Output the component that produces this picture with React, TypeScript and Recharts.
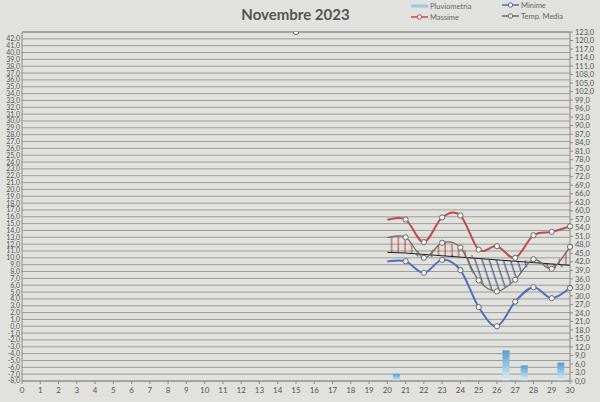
import { ComposedChart, Line, Area, Bar, XAxis, YAxis, CartesianGrid, ReferenceLine } from 'recharts'

// giorni del mese con le temperature (il 20 ripete il 21, è il tratto iniziale senza marcatore)
const giorni = [20, 21, 22, 23, 24, 25, 26, 27, 28, 29, 30]
const massime = [15.6, 15.6, 12.3, 15.9, 16.2, 11.2, 11.7, 10.0, 13.3, 13.8, 14.6]
const minime = [9.5, 9.5, 7.8, 9.7, 8.2, 2.8, 0.0, 3.6, 5.7, 4.1, 5.6]
const tempMedia = [13.0, 13.0, 10.0, 12.2, 11.5, 6.7, 5.1, 6.8, 9.8, 8.4, 11.6]
const mediaNormale = [10.8, 10.7, 10.5, 10.3, 10.1, 9.9, 9.7, 9.5, 9.3, 9.1, 8.9]

// pioggia (asse destro), barre a metà giornata
const giorniPioggia = [20.5, 21.5, 24.5, 26.5, 27.5, 29.5]
const pluviometria = [2.5, 0.3, 0.2, 10.8, 5.5, 6.5]

// punto fuori scala in alto
const giornoFuoriScala = [15]
const valoreFuoriScala = [43]

const xTicks = [0, 1, 2, 3, 4, 5, 6, 7, 8, 9, 10, 11, 12, 13, 14, 15, 16, 17, 18, 19, 20, 21, 22, 23, 24, 25, 26, 27, 28, 29, 30]
const tickSinistra = [
  -8, -7, -6, -5, -4, -3, -2, -1, 0, 1, 2, 3, 4, 5, 6, 7, 8, 9, 10, 11, 12, 13, 14, 15, 16, 17, 18, 19, 20, 21,
  22, 23, 24, 25, 26, 27, 28, 29, 30, 31, 32, 33, 34, 35, 36, 37, 38, 39, 40, 41, 42,
]
const tickDestra = [
  0, 3, 6, 9, 12, 15, 18, 21, 24, 27, 30, 33, 36, 39, 42, 45, 48, 51, 54, 57, 60, 63, 66, 69, 72, 75, 78, 81, 84,
  87, 90, 93, 96, 99, 102, 105, 108, 111, 114, 117, 120, 123,
]

type Riga = {
  x: number
  max?: number
  min?: number
  media?: number
  normale?: number
  sopra?: [number, number]
  sotto?: [number, number]
  pioggia?: number
  fuori?: number
}

const righe: Riga[] = [
  ...giornoFuoriScala.map((x, i) => ({ x, fuori: valoreFuoriScala[i] })),
  ...giorni.map((x, i) => ({
    x,
    max: massime[i],
    min: minime[i],
    media: tempMedia[i],
    normale: mediaNormale[i],
    sopra: [mediaNormale[i], Math.max(tempMedia[i], mediaNormale[i])] as [number, number],
    sotto: [Math.min(tempMedia[i], mediaNormale[i]), mediaNormale[i]] as [number, number],
  })),
  ...giorniPioggia.map((x, i) => ({ x, pioggia: pluviometria[i] })),
].sort((a, b) => a.x - b.x)

const fmt = (v: number) => v.toFixed(1).replace('.', ',')

// curva smussata tipo Excel (Catmull-Rom)
const curvaExcel = (context: any) => {
  let xs: number[] = []
  let ys: number[] = []
  let line = NaN
  return {
    areaStart() {
      line = 0
    },
    areaEnd() {
      line = NaN
    },
    lineStart() {
      xs = []
      ys = []
    },
    point(x: number, y: number) {
      xs.push(+x)
      ys.push(+y)
    },
    lineEnd() {
      const n = xs.length
      if (n > 0) {
        if (line) context.lineTo(xs[0], ys[0])
        else context.moveTo(xs[0], ys[0])
        for (let i = 0; i < n - 1; i++) {
          const x0 = xs[Math.max(i - 1, 0)]
          const y0 = ys[Math.max(i - 1, 0)]
          const x3 = xs[Math.min(i + 2, n - 1)]
          const y3 = ys[Math.min(i + 2, n - 1)]
          context.bezierCurveTo(
            xs[i] + (xs[i + 1] - x0) / 6,
            ys[i] + (ys[i + 1] - y0) / 6,
            xs[i + 1] - (x3 - xs[i]) / 6,
            ys[i + 1] - (y3 - ys[i]) / 6,
            xs[i + 1],
            ys[i + 1]
          )
        }
      }
      if (line || (line !== 0 && n === 1)) context.closePath()
      line = 1 - line
    },
  }
}

const marcatore = (p: any) => {
  if (p.cy == null || p.value == null || p.payload?.x === 20) return <g key={`n${p.index}`} />
  return <circle key={`d${p.index}`} cx={p.cx} cy={p.cy} r={2.6} fill="#f4f4f2" stroke="#6a6a6a" strokeWidth={1} />
}

const testo = '#555'
const sfondo = '#e1e1de'

const LegendaVoce = ({ x, y, colore, cerchio, spesso, label }: any) => (
  <div style={{ position: 'absolute', left: x, top: y, height: 10, display: 'flex', alignItems: 'center' }}>
    <svg width={17} height={10}>
      <line x1={0} y1={5} x2={17} y2={5} stroke={colore} strokeWidth={spesso ? 3 : 1.5} />
      {cerchio && <circle cx={8.5} cy={5} r={2.2} fill="#f4f4f2" stroke={colore} strokeWidth={1} />}
    </svg>
    <span style={{ fontSize: 7.5, color: '#666', marginLeft: 2 }}>{label}</span>
  </div>
)

export default function App() {
  return (
    <div
      style={{
        position: 'absolute',
        left: 0,
        top: 0,
        width: 600,
        height: 402,
        background: sfondo,
        fontFamily: 'Lato, "Open Sans", sans-serif',
        overflow: 'hidden',
      }}
    >
      <div
        style={{
          position: 'absolute',
          left: 0,
          top: 5,
          width: 591,
          textAlign: 'center',
          fontSize: 15,
          fontWeight: 'bold',
          color: testo,
        }}
      >
        Novembre 2023
      </div>
      <LegendaVoce x={411} y={1} colore="#9ec5e2" spesso label="Pluviometria" />
      <LegendaVoce x={502} y={0} colore="#4a72c0" cerchio label="Minime" />
      <LegendaVoce x={411} y={12} colore="#c24a48" cerchio label="Massime" />
      <LegendaVoce x={502} y={11} colore="#666" cerchio label="Temp. Media" />
      <ComposedChart width={600} height={402} data={righe} margin={{ top: 32, right: 0, bottom: 0, left: 0 }}>
        <defs>
          <pattern id="trattRosso" width={6.7} height={6.7} patternUnits="userSpaceOnUse">
            <line x1={3} y1={0} x2={3} y2={6.7} stroke="#c0392b" strokeWidth={1} />
          </pattern>
          <pattern
            id="trattBlu"
            width={6.7}
            height={6.7}
            patternUnits="userSpaceOnUse"
            patternTransform="rotate(-18)"
          >
            <line x1={3} y1={0} x2={3} y2={6.7} stroke="#2c3d6b" strokeWidth={1} />
          </pattern>
          <linearGradient id="pioggiaGrad" x1="0" y1="0" x2="0" y2="1">
            <stop offset="0%" stopColor="#4d9fd6" />
            <stop offset="100%" stopColor="#e6eef4" />
          </linearGradient>
        </defs>
        <CartesianGrid yAxisId="l" horizontal vertical={false} stroke="#9c9c9a" strokeWidth={1} />
        <XAxis
          dataKey="x"
          type="number"
          domain={[0, 30]}
          ticks={xTicks}
          interval={0}
          height={21}
          tickSize={3}
          tickMargin={3}
          tick={{ fontSize: 8, fill: testo }}
          stroke="#8a8a88"
          allowDecimals={false}
        />
        <YAxis
          yAxisId="l"
          domain={[-8, 43]}
          ticks={tickSinistra}
          interval={0}
          width={22}
          tickFormatter={fmt}
          tickLine={false}
          tickSize={1}
          tickMargin={1}
          tick={{ fontSize: 7, fill: testo }}
          stroke="#8a8a88"
          allowDataOverflow
        />
        <YAxis
          yAxisId="r"
          orientation="right"
          domain={[0, 123]}
          ticks={tickDestra}
          interval={0}
          width={30}
          tickFormatter={fmt}
          tickSize={3}
          tickMargin={2}
          tick={{ fontSize: 7.5, fill: testo }}
          stroke="#8a8a88"
        />
        <ReferenceLine yAxisId="l" y={43} stroke="#8a8a88" />
        <Bar
          yAxisId="r"
          dataKey="pioggia"
          barSize={7}
          fill="url(#pioggiaGrad)"
          isAnimationActive={false}
        />
        <Area
          yAxisId="l"
          dataKey="sopra"
          type={curvaExcel as any}
          stroke="none"
          fill="url(#trattRosso)"
          fillOpacity={1}
          connectNulls
          isAnimationActive={false}
        />
        <Area
          yAxisId="l"
          dataKey="sotto"
          type={curvaExcel as any}
          stroke="none"
          fill="url(#trattBlu)"
          fillOpacity={1}
          connectNulls
          isAnimationActive={false}
        />
        <Line
          yAxisId="l"
          dataKey="normale"
          type="linear"
          stroke="#1e1e1e"
          strokeWidth={1}
          dot={false}
          connectNulls
          isAnimationActive={false}
        />
        <Line
          yAxisId="l"
          dataKey="media"
          type={curvaExcel as any}
          stroke="#6b6b6b"
          strokeWidth={1.3}
          dot={marcatore}
          connectNulls
          isAnimationActive={false}
        />
        <Line
          yAxisId="l"
          dataKey="min"
          type={curvaExcel as any}
          stroke="#4a72c0"
          strokeWidth={2}
          dot={marcatore}
          connectNulls
          isAnimationActive={false}
        />
        <Line
          yAxisId="l"
          dataKey="max"
          type={curvaExcel as any}
          stroke="#c24a48"
          strokeWidth={2}
          dot={marcatore}
          connectNulls
          isAnimationActive={false}
        />
        <Line
          yAxisId="l"
          dataKey="fuori"
          stroke="none"
          dot={marcatore}
          isAnimationActive={false}
        />
      </ComposedChart>
    </div>
  )
}
